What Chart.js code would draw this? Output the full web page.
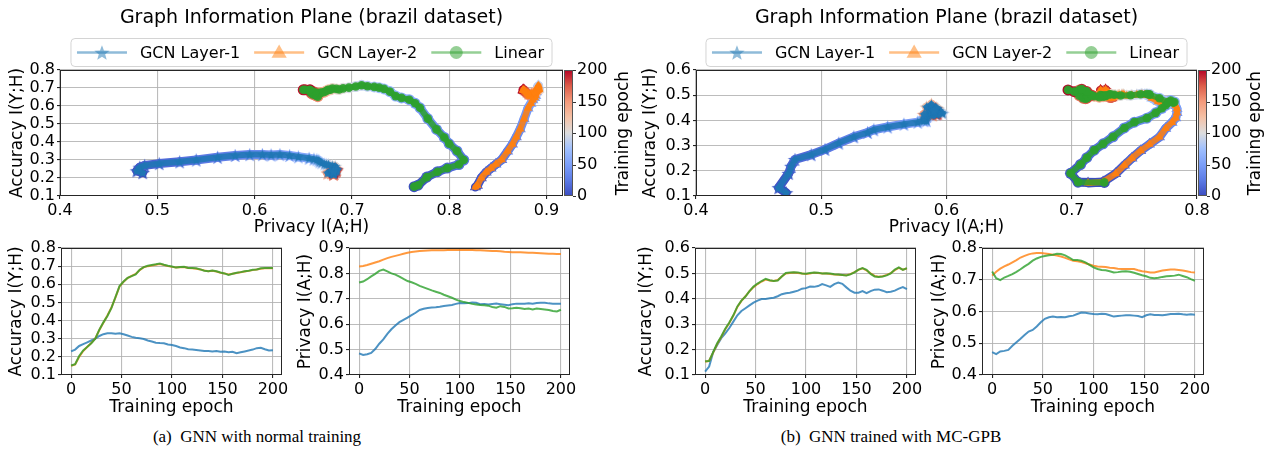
<!DOCTYPE html>
<html>
<head>
<meta charset="utf-8">
<script src="https://cdn.jsdelivr.net/npm/chart.js@4.4.1/dist/chart.umd.min.js"></script>
<style>
  body { margin: 0; background: #fff; width: 1272px; height: 462px; position: relative; overflow: hidden; }
  canvas { position: absolute; }
  .cap { position: absolute; top: 427px; font-family: "Liberation Serif", serif; font-size: 17px; color: #000;
         white-space: pre; transform: translateX(-50%); }
</style>
</head>
<body>
<canvas id="accA" width="305" height="195" style="left:0px;top:230px"></canvas>
<canvas id="privA" width="300" height="195" style="left:290px;top:230px"></canvas>
<canvas id="accB" width="310" height="195" style="left:630px;top:230px"></canvas>
<canvas id="privB" width="310" height="195" style="left:920px;top:230px"></canvas>
<canvas id="planeA" width="640" height="240" style="left:0px;top:0px"></canvas>
<canvas id="planeB" width="636" height="240" style="left:636px;top:0px"></canvas>
<div class="cap" style="left:257px">(a)  GNN with normal training</div>
<div class="cap" style="left:891px">(b)  GNN trained with MC-GPB</div>

<script>
// epochs sampled every 4
const epochs = [0,4,8,12,16,20,24,28,32,36,40,44,48,52,56,60,64,68,72,76,80,84,88,92,96,100,
  104,108,112,116,120,124,128,132,136,140,144,148,152,156,160,164,168,172,176,180,184,188,192,196,200];

const seriesNames = ['GCN Layer-1', 'GCN Layer-2', 'Linear'];

// (a) normal training
const accL1_a = [0.230,0.240,0.260,0.270,0.280,0.290,0.300,0.315,0.325,0.330,
  0.330,0.328,0.330,0.325,0.318,0.310,0.305,0.302,0.298,0.290,
  0.285,0.278,0.276,0.275,0.268,0.265,0.260,0.252,0.248,0.242,
  0.240,0.238,0.235,0.232,0.232,0.230,0.232,0.228,0.230,0.226,
  0.228,0.220,0.225,0.230,0.235,0.240,0.248,0.250,0.242,0.235,0.237];
const accL2_a = [0.150,0.158,0.200,0.232,0.254,0.276,0.302,0.348,0.388,0.428,
  0.472,0.528,0.588,0.614,0.634,0.646,0.657,0.678,0.694,0.700,
  0.704,0.708,0.712,0.706,0.700,0.696,0.692,0.694,0.695,0.690,
  0.688,0.686,0.682,0.676,0.672,0.674,0.670,0.664,0.660,0.654,
  0.658,0.662,0.666,0.670,0.674,0.678,0.682,0.686,0.688,0.690,0.688];
const accLin_a = [0.152,0.160,0.205,0.235,0.255,0.275,0.300,0.350,0.390,0.425,
  0.470,0.530,0.590,0.615,0.635,0.645,0.655,0.680,0.695,0.702,
  0.706,0.710,0.715,0.708,0.702,0.698,0.692,0.695,0.697,0.690,
  0.690,0.688,0.682,0.675,0.672,0.676,0.672,0.665,0.660,0.652,
  0.658,0.664,0.667,0.672,0.675,0.680,0.682,0.688,0.690,0.690,0.690];
const privL1_a = [0.485,0.479,0.482,0.487,0.502,0.523,0.540,0.562,0.580,0.595,
  0.608,0.617,0.626,0.636,0.645,0.656,0.661,0.664,0.666,0.667,
  0.669,0.672,0.674,0.676,0.680,0.683,0.682,0.683,0.685,0.684,
  0.679,0.680,0.678,0.680,0.681,0.679,0.677,0.675,0.679,0.681,
  0.681,0.681,0.682,0.681,0.683,0.684,0.684,0.682,0.681,0.681,0.681];
const privL2_a = [0.827,0.829,0.833,0.838,0.843,0.848,0.854,0.860,0.865,0.869,
  0.873,0.877,0.881,0.884,0.886,0.888,0.889,0.890,0.891,0.891,
  0.891,0.891,0.892,0.892,0.892,0.892,0.892,0.892,0.892,0.891,
  0.891,0.890,0.889,0.888,0.888,0.887,0.885,0.884,0.883,0.883,
  0.883,0.882,0.881,0.881,0.880,0.879,0.878,0.877,0.877,0.876,0.876];
const privLin_a = [0.764,0.768,0.777,0.788,0.798,0.810,0.815,0.808,0.800,0.795,
  0.787,0.778,0.770,0.765,0.759,0.751,0.745,0.739,0.733,0.728,
  0.723,0.716,0.710,0.704,0.697,0.691,0.687,0.684,0.680,0.678,
  0.676,0.675,0.673,0.668,0.665,0.671,0.668,0.662,0.663,0.665,
  0.663,0.660,0.662,0.658,0.662,0.660,0.658,0.656,0.652,0.650,0.657];

// (b) trained with MC-GPB
const accL1_b = [0.113,0.133,0.190,0.218,0.245,0.264,0.285,0.310,0.335,0.352,
  0.363,0.374,0.385,0.393,0.399,0.399,0.402,0.404,0.410,0.418,
  0.422,0.424,0.428,0.432,0.440,0.442,0.448,0.447,0.450,0.458,
  0.453,0.447,0.458,0.464,0.459,0.445,0.432,0.424,0.424,0.430,
  0.422,0.430,0.436,0.437,0.432,0.426,0.428,0.432,0.440,0.446,0.438];
const accL2_b = [0.152,0.156,0.188,0.222,0.250,0.280,0.305,0.334,0.368,0.392,
  0.410,0.430,0.446,0.458,0.468,0.476,0.472,0.470,0.474,0.488,
  0.500,0.502,0.504,0.502,0.500,0.498,0.500,0.503,0.502,0.500,
  0.500,0.498,0.496,0.495,0.494,0.493,0.497,0.505,0.514,0.520,
  0.512,0.500,0.490,0.487,0.489,0.494,0.501,0.513,0.522,0.515,0.519];
const accLin_b = [0.154,0.155,0.190,0.225,0.252,0.282,0.307,0.335,0.370,0.393,
  0.409,0.430,0.448,0.460,0.470,0.479,0.473,0.470,0.472,0.488,
  0.502,0.504,0.505,0.504,0.500,0.499,0.502,0.504,0.503,0.500,
  0.501,0.500,0.497,0.496,0.494,0.492,0.496,0.504,0.515,0.521,
  0.514,0.498,0.488,0.486,0.488,0.492,0.500,0.515,0.524,0.514,0.521];
const privL1_b = [0.472,0.466,0.474,0.476,0.479,0.492,0.503,0.514,0.526,0.537,
  0.542,0.553,0.566,0.577,0.582,0.584,0.582,0.583,0.582,0.585,
  0.587,0.592,0.597,0.596,0.594,0.592,0.591,0.593,0.592,0.588,
  0.584,0.586,0.587,0.588,0.588,0.587,0.586,0.582,0.588,0.591,
  0.589,0.589,0.588,0.590,0.592,0.592,0.593,0.591,0.590,0.591,0.590];
const privL2_b = [0.713,0.725,0.735,0.742,0.748,0.755,0.762,0.770,0.775,0.780,
  0.783,0.784,0.784,0.783,0.781,0.779,0.776,0.773,0.769,0.764,
  0.760,0.758,0.756,0.752,0.748,0.744,0.742,0.741,0.740,0.738,
  0.737,0.735,0.734,0.734,0.734,0.734,0.730,0.727,0.725,0.723,
  0.723,0.726,0.729,0.731,0.732,0.732,0.731,0.729,0.727,0.724,0.723];
const privLin_b = [0.726,0.705,0.699,0.707,0.712,0.718,0.725,0.733,0.742,0.750,
  0.760,0.767,0.772,0.775,0.777,0.779,0.782,0.781,0.777,0.770,
  0.762,0.762,0.760,0.755,0.747,0.739,0.734,0.731,0.730,0.727,
  0.723,0.724,0.726,0.727,0.725,0.722,0.718,0.714,0.711,0.706,
  0.705,0.706,0.709,0.711,0.712,0.713,0.716,0.712,0.708,0.702,0.697];

// tick labels
const epochTicks = [0, 50, 100, 150, 200];
const cbTicks = [0, 50, 100, 150, 200];
const privTicksPlaneA = [0.4, 0.5, 0.6, 0.7, 0.8, 0.9];
const privTicksPlaneB = [0.4, 0.5, 0.6, 0.7, 0.8];
const accTicksA = [0.1, 0.2, 0.3, 0.4, 0.5, 0.6, 0.7, 0.8];
const accTicksB = [0.1, 0.2, 0.3, 0.4, 0.5, 0.6];
const privTicksA = [0.4, 0.5, 0.6, 0.7, 0.8, 0.9];
const privTicksB = [0.4, 0.5, 0.6, 0.7, 0.8];

// styles
const seriesRGB = ['31,119,180', '255,127,14', '44,160,44'];
const shapes = ['star', 'triangle', 'circle'];
const gridColor = 'rgba(176,176,176,0.85)';
const tickFont = {family: 'DejaVu Sans', size: 16, lineHeight: 1.2};
const labFont = {family: 'DejaVu Sans', size: 17, lineHeight: 1};
const coolStops = [
  [0.0, 59, 76, 192], [0.125, 92, 123, 229], [0.25, 124, 159, 249], [0.375, 160, 192, 254],
  [0.5, 221, 221, 221], [0.625, 244, 193, 166], [0.75, 244, 154, 123], [0.875, 220, 93, 74], [1.0, 180, 4, 38]
];

function rgba(c, a) { return 'rgba(' + c + ',' + a + ')'; }

function coolwarm(t) {
  for (let i = 1; i < coolStops.length; i++) {
    const p = coolStops[i - 1], q = coolStops[i];
    if (t <= q[0]) {
      const f = (t - p[0]) / (q[0] - p[0]);
      return 'rgb(' + [1, 2, 3].map(k => Math.round(p[k] + (q[k] - p[k]) * f)).join(',') + ')';
    }
  }
  return 'rgb(180,4,38)';
}

function starPath(g, cx, cy, r) {
  g.beginPath();
  for (let k = 0; k < 10; k++) {
    const rr = k % 2 === 0 ? r : r * 0.42;
    const a = -Math.PI / 2 + k * Math.PI / 5;
    const px = cx + rr * Math.cos(a), py = cy + rr * Math.sin(a);
    if (k === 0) g.moveTo(px, py); else g.lineTo(px, py);
  }
  g.closePath();
}

const starCache = {};
function starImg(color, r) {
  const key = color + '|' + r;
  if (starCache[key]) return starCache[key];
  const c = document.createElement('canvas');
  const s = Math.ceil(r * 2 + 2);
  c.width = s; c.height = s;
  const g = c.getContext('2d');
  starPath(g, s / 2, s / 2 + r * 0.1, r);
  g.fillStyle = color;
  g.fill();
  starCache[key] = c;
  return c;
}

function drawMarker(ctx, shape, x, y, r, fill) {
  ctx.fillStyle = fill;
  if (shape === 'star') {
    starPath(ctx, x, y + r * 0.1, r);
  } else if (shape === 'triangle') {
    ctx.beginPath();
    ctx.moveTo(x, y - r);
    ctx.lineTo(x + r * 0.95, y + r * 0.65);
    ctx.lineTo(x - r * 0.95, y + r * 0.65);
    ctx.closePath();
  } else {
    ctx.beginPath();
    ctx.arc(x, y, r, 0, Math.PI * 2);
  }
  ctx.fill();
}

// ---------- plugins ----------
const framePlugin = {
  id: 'frame',
  afterDatasetsDraw(chart) {
    const a = chart.chartArea, ctx = chart.ctx;
    ctx.save();
    ctx.strokeStyle = '#262626';
    ctx.lineWidth = 1;
    ctx.strokeRect(Math.round(a.left) + 0.5, Math.round(a.top) + 0.5,
      Math.round(a.right - a.left) - 1, Math.round(a.bottom - a.top) - 1);
    ctx.restore();
  }
};

function colorbarPlugin(titleX) {
  return {
    id: 'colorbar',
    afterDraw(chart) {
      const a = chart.chartArea, ctx = chart.ctx, sc = chart.scales.cb;
      const x0 = Math.round(a.right) + 1, w = 9;
      const grad = ctx.createLinearGradient(0, a.bottom, 0, a.top);
      coolStops.forEach(s => grad.addColorStop(s[0], 'rgb(' + s[1] + ',' + s[2] + ',' + s[3] + ')'));
      ctx.save();
      ctx.fillStyle = grad;
      ctx.fillRect(x0, a.top, w, a.bottom - a.top);
      ctx.strokeStyle = '#555';
      ctx.lineWidth = 1;
      ctx.strokeRect(x0 + 0.5, Math.round(a.top) + 0.5, w - 1, Math.round(a.bottom - a.top) - 1);
      ctx.strokeStyle = '#333';
      sc.ticks.forEach(t => {
        const y = Math.round(sc.getPixelForValue(t.value)) + 0.5;
        ctx.beginPath(); ctx.moveTo(x0 + w, y); ctx.lineTo(x0 + w + 3, y); ctx.stroke();
      });
      // colorbar label, reading bottom to top
      ctx.translate(titleX, (a.top + a.bottom) / 2);
      ctx.rotate(-Math.PI / 2);
      ctx.fillStyle = '#000';
      ctx.font = '17px "DejaVu Sans"';
      ctx.textAlign = 'center';
      ctx.textBaseline = 'middle';
      ctx.fillText('Training epoch', 0, 0);
      ctx.restore();
    }
  };
}

function decorPlugin(title) {
  return {
    id: 'decor',
    afterDraw(chart) {
      const a = chart.chartArea, ctx = chart.ctx;
      const cx = (a.left + a.right) / 2;
      ctx.save();
      ctx.fillStyle = '#000';
      ctx.textAlign = 'center';
      ctx.textBaseline = 'middle';
      ctx.font = '19px "DejaVu Sans"';
      ctx.fillText(title, cx, 18);

      ctx.font = '16px "DejaVu Sans"';
      const widths = seriesNames.map(n => ctx.measureText(n).width);
      const handle = 50, gap = 13, col = 14, padL = 6, padR = 8;
      let total = padL + padR;
      widths.forEach((w, i) => { total += handle + gap + w + (i < widths.length - 1 ? col : 0); });
      const left = cx - total / 2, top = 38.5, h = 28, mid = top + h / 2;
      ctx.beginPath();
      ctx.roundRect(left, top, total, h, 4);
      ctx.fillStyle = 'rgba(255,255,255,0.85)';
      ctx.fill();
      ctx.strokeStyle = '#d4d4d4';
      ctx.lineWidth = 1;
      ctx.stroke();

      let x = left + padL;
      seriesNames.forEach((n, i) => {
        ctx.strokeStyle = rgba(seriesRGB[i], 0.5);
        ctx.lineWidth = 2.5;
        ctx.beginPath(); ctx.moveTo(x, mid); ctx.lineTo(x + handle, mid); ctx.stroke();
        drawMarker(ctx, shapes[i], x + handle / 2, mid, shapes[i] === 'circle' ? 6.5 : 8, rgba(seriesRGB[i], 0.5));
        ctx.fillStyle = '#000';
        ctx.textAlign = 'left';
        ctx.fillText(n, x + handle + gap, mid + 1);
        x += handle + gap + widths[i] + col;
      });
      ctx.restore();
    }
  };
}

// ---------- axis helpers ----------
const fixW = w => s => { s.width = w; };
const fixH = h => s => { s.height = h; };
const setTicks = arr => s => { s.ticks = arr.map(v => ({value: v})); };

function xAxis(min, max, ticks, title, g, dec) {
  return {
    type: 'linear', position: 'bottom', min: min, max: max,
    afterBuildTicks: setTicks(ticks),
    afterFit: fixH(g.xH),
    grid: {color: gridColor, lineWidth: 1.1, tickLength: 3, tickColor: '#222'},
    border: {display: false},
    ticks: {font: tickFont, color: '#000', padding: 2, maxRotation: 0, autoSkip: false,
      callback: v => dec ? Number(v).toFixed(1) : String(v)},
    title: {display: true, text: title, font: labFont, color: '#000', padding: {top: 0, bottom: g.xT}}
  };
}

function yAxis(min, max, ticks, title, g) {
  return {
    type: 'linear', position: 'left', min: min, max: max,
    afterBuildTicks: setTicks(ticks),
    afterFit: fixW(g.yW),
    grid: {color: gridColor, lineWidth: 1.1, tickLength: 3, tickColor: '#222'},
    border: {display: false},
    ticks: {font: tickFont, color: '#000', padding: 2, autoSkip: false,
      callback: v => Number(v).toFixed(1)},
    title: {display: true, text: title, font: labFont, color: '#000', padding: {top: g.yT, bottom: 0}}
  };
}

// ---------- information plane ----------
function planeChart(id, privs, accs, xMax, xTicks, yMax, yTicks, g) {
  const datasets = [];
  const warm = epochs.map(e => coolwarm(e / 200));
  privs.forEach((priv, i) => {
    const pts = epochs.map((e, k) => ({x: priv[k], y: accs[i][k]}));
    // epoch-coloured halo underneath
    datasets.push({
      data: pts, order: 100 - i, showLine: true,
      borderWidth: 9, borderCapStyle: 'round', borderJoinStyle: 'round',
      segment: {borderColor: c => warm[c.p0DataIndex]},
      pointStyle: shapes[i] === 'star' ? warm.map(c => starImg(c, 7.5)) : shapes[i],
      pointRadius: shapes[i] === 'triangle' ? 6.5 : 5.5,
      pointBackgroundColor: warm, pointBorderWidth: 0
    });
    // series path with markers
    const core = rgba(seriesRGB[i], 0.9);
    datasets.push({
      data: pts, order: 30 - i * 10, showLine: true,
      borderColor: rgba(seriesRGB[i], 0.85), borderWidth: 6,
      borderCapStyle: 'round', borderJoinStyle: 'round',
      pointStyle: shapes[i] === 'star' ? starImg(core, 5.5) : shapes[i],
      pointRadius: shapes[i] === 'triangle' ? 5 : 4.3,
      pointBackgroundColor: core, pointBorderWidth: 0
    });
  });
  return new Chart(document.getElementById(id), {
    type: 'scatter',
    data: {datasets: datasets},
    options: {
      responsive: false, animation: false, events: [], devicePixelRatio: 1,
      layout: {padding: {top: g.top, left: 0, right: 0, bottom: 0}},
      plugins: {legend: {display: false}, tooltip: {enabled: false}},
      scales: {
        x: xAxis(0.4, xMax, xTicks, 'Privacy I(A;H)', g, true),
        y: yAxis(0.1, yMax, yTicks, 'Accuracy I(Y;H)', g),
        cb: {
          type: 'linear', position: 'right', min: 0, max: 200,
          afterBuildTicks: setTicks(cbTicks),
          afterFit: fixW(g.cbW),
          grid: {display: false, drawTicks: true, tickLength: 13},
          border: {display: false},
          ticks: {font: tickFont, color: '#000', padding: 1, autoSkip: false},
          title: {display: false}
        }
      }
    },
    plugins: [framePlugin, colorbarPlugin(g.cbX), decorPlugin('Graph Information Plane (brazil dataset)')]
  });
}

// ---------- per-epoch curves ----------
function curveChart(id, series, yMin, yMax, yTicks, yTitle, g) {
  const datasets = series.map((s, i) => ({
    data: epochs.map((e, k) => ({x: e, y: s[k]})),
    borderColor: rgba(seriesRGB[i], 0.8), borderWidth: 2,
    pointRadius: 0, tension: 0, order: 3 - i
  }));
  return new Chart(document.getElementById(id), {
    type: 'line',
    data: {datasets: datasets},
    options: {
      responsive: false, animation: false, events: [], devicePixelRatio: 1,
      layout: {padding: {top: g.top, left: 0, right: g.right, bottom: 0}},
      plugins: {legend: {display: false}, tooltip: {enabled: false}},
      scales: {
        x: xAxis(-10, 209, epochTicks, 'Training epoch', g, false),
        y: yAxis(yMin, yMax, yTicks, yTitle, g)
      }
    },
    plugins: [framePlugin]
  });
}

planeChart('planeA', [privL1_a, privL2_a, privLin_a], [accL1_a, accL2_a, accLin_a],
  0.917, privTicksPlaneA, 0.8, accTicksA, {top: 70, yW: 60, cbW: 77, xH: 44, xT: 3.5, yT: 9.5, cbX: 624});
planeChart('planeB', [privL1_b, privL2_b, privLin_b], [accL1_b, accL2_b, accLin_b],
  0.8, privTicksPlaneB, 0.6, accTicksB, {top: 70, yW: 60, cbW: 75, xH: 44, xT: 3.5, yT: 6.5, cbX: 620});

curveChart('accA', [accL1_a, accL2_a, accLin_a], 0.1, 0.8, accTicksA, 'Accuracy I(Y;H)',
  {top: 18, right: 23, yW: 61, xH: 50, xT: 8.5, yT: 8.5});
curveChart('privA', [privL1_a, privL2_a, privLin_a], 0.4, 0.9, privTicksA, 'Privacy I(A;H)',
  {top: 18, right: 20, yW: 59, xH: 50, xT: 8.5, yT: 7.5});
curveChart('accB', [accL1_b, accL2_b, accLin_b], 0.1, 0.6, accTicksB, 'Accuracy I(Y;H)',
  {top: 18, right: 24, yW: 65, xH: 50, xT: 8.5, yT: 8.5});
curveChart('privB', [privL1_b, privL2_b, privLin_b], 0.4, 0.8, privTicksB, 'Privacy I(A;H)',
  {top: 18, right: 26, yW: 62, xH: 50, xT: 8.5, yT: 11.5});
</script>
</body>
</html>
